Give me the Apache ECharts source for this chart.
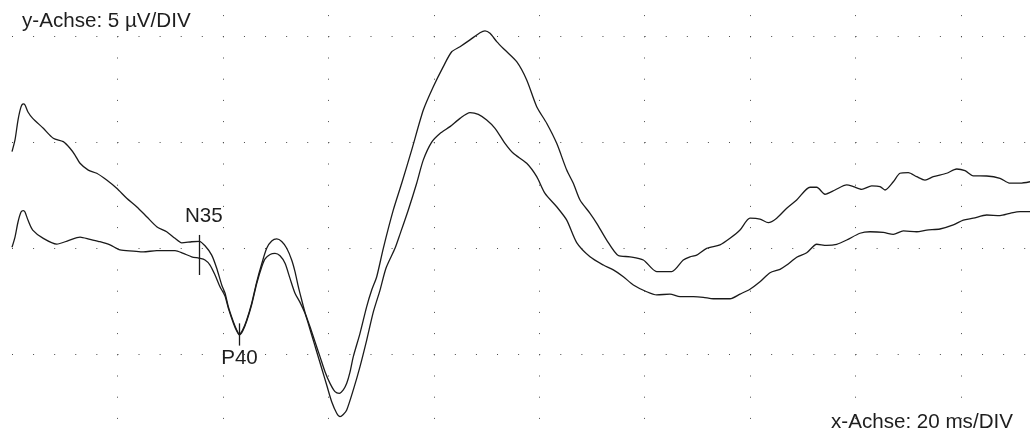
<!DOCTYPE html>
<html>
<head>
<meta charset="utf-8">
<script src="https://cdn.jsdelivr.net/npm/echarts@6.0.0/dist/echarts.min.js"></script>
<style>
html,body{margin:0;padding:0;background:#fff;}
#chart{width:1030px;height:437px;}
</style>
</head>
<body>
<div id="chart"></div>
<script>
// Trace A (upper trace), time in ms, amplitude in µV
const timeA = [0.0,0.57,1.14,1.71,2.14,2.47,3.03,3.93,5.94,7.83,9.73,11.0,11.95,12.90,14.47,16.07,17.96,19.86,21.76,23.64,25.55,27.45,29.34,30.92,32.19,34.08,35.53,36.61,37.88,38.83,39.78,40.40,41.03,41.98,42.62,43.12,43.76,44.52,45.47,46.42,47.36,48.31,49.26,50.21,51.16,52.11,53.05,53.68,54.31,54.95,55.58,56.53,57.47,58.42,59.37,60.32,61.27,62.08,62.84,63.49,64.11,64.74,66.01,67.28,68.23,69.18,70.43,72.33,73.92,75.82,78.02,79.91,81.81,83.40,84.98,86.87,88.77,89.72,90.67,91.94,93.51,95.73,97.63,99.53,101.42,103.32,105.22,106.47,107.74,109.64,110.91,112.80,115.00,117.22,119.75,122.29,125.13,127.33,128.60,129.87,131.77,134.29,136.19,138.09,139.98,141.88,143.46,145.05,146.95,148.84,151.37,152.64,154.21,156.11,158.33,159.58,161.17,163.07,164.64,165.59,167.17,168.44,170.01,171.60,173.18,174.75,177.29,179.19,180.77,182.34,184.88,187.41,189.30,191.20,193.10];
const ampA = [4.56,5.11,6.05,6.67,6.81,6.76,6.43,6.13,5.66,5.19,5.03,4.72,4.40,4.01,3.69,3.54,3.22,2.83,2.36,1.96,1.49,1.02,0.78,0.47,0.26,0.31,0.33,0.12,-0.32,-0.94,-1.73,-2.11,-2.75,-3.46,-3.85,-4.06,-3.85,-3.38,-2.59,-1.58,-0.74,0.0,0.34,0.44,0.32,0.0,-0.55,-1.10,-1.81,-2.44,-3.02,-3.70,-4.41,-5.11,-5.82,-6.37,-6.76,-6.84,-6.68,-6.37,-5.84,-5.11,-4.01,-2.75,-1.97,-1.34,0.0,1.81,3.07,4.64,6.52,7.62,8.57,9.27,9.51,9.83,10.17,10.26,10.14,9.75,9.35,8.80,7.94,6.68,5.90,4.95,3.69,3.07,2.28,1.65,1.18,0.39,-0.34,-0.40,-0.55,-1.10,-1.10,-0.55,-0.40,-0.32,0.0,0.16,0.47,0.86,1.42,1.38,1.21,1.42,1.89,2.28,2.88,2.88,2.55,2.75,2.99,2.91,2.78,2.94,2.91,2.75,3.14,3.54,3.57,3.38,3.22,3.38,3.54,3.74,3.66,3.42,3.41,3.30,3.07,3.07,3.14];

// Trace B (lower trace)
const timeB = [0.0,0.57,1.14,1.71,2.14,2.47,3.03,3.93,5.94,8.48,10.68,12.90,14.79,16.69,18.59,20.49,23.01,24.91,27.45,30.92,32.49,34.09,35.53,36.61,37.56,38.51,39.45,40.40,41.03,41.98,42.62,43.12,43.76,44.52,45.47,46.42,47.36,48.0,48.95,49.89,50.84,51.79,52.73,53.68,54.63,55.58,56.85,57.80,58.74,59.69,60.64,61.59,62.22,62.84,63.49,64.74,66.01,67.28,68.54,69.81,70.95,72.65,73.60,75.17,76.76,78.02,79.61,81.18,83.08,84.98,86.87,88.45,90.04,91.62,93.51,95.09,97.63,99.53,101.10,103.32,105.22,107.11,109.64,112.17,114.06,115.96,117.86,120.39,122.29,124.81,126.71,129.23,131.13,133.02,136.19,138.09,139.98,141.88,143.78,145.68,146.95,148.84,150.74,152.64,154.53,156.43,158.33,160.85,162.75,165.27,167.17,169.07,171.60,173.50,176.02,178.55,180.44,182.34,184.88,187.41,189.30,191.20,193.10];
const ampB = [0.05,0.53,1.24,1.71,1.78,1.71,1.33,0.86,0.47,0.20,0.36,0.53,0.42,0.31,0.16,-0.08,-0.13,-0.17,-0.11,-0.11,-0.24,-0.40,-0.47,-0.55,-0.79,-1.26,-1.81,-2.25,-2.82,-3.52,-3.90,-4.09,-3.90,-3.43,-2.65,-1.66,-0.88,-0.50,-0.29,-0.24,-0.35,-0.71,-1.42,-2.12,-2.55,-3.07,-4.09,-4.88,-5.66,-6.45,-7.24,-7.78,-7.94,-7.84,-7.63,-6.68,-5.58,-4.33,-3.00,-1.97,-0.93,0.0,0.67,1.81,3.07,4.17,5.01,5.42,5.74,6.13,6.40,6.32,6.05,5.66,4.95,4.48,4.01,3.38,2.59,1.96,1.33,0.27,-0.40,-0.79,-1.02,-1.34,-1.73,-2.05,-2.20,-2.16,-2.28,-2.28,-2.31,-2.38,-2.38,-2.16,-1.93,-1.58,-1.15,-0.99,-0.79,-0.42,-0.21,0.19,0.14,0.19,0.39,0.71,0.78,0.75,0.66,0.82,0.78,0.86,0.91,1.10,1.33,1.42,1.57,1.54,1.65,1.73,1.73];

// Peak markers: name, latency (ms), marker top / bottom (µV)
const peakNames = ['N35', 'P40'];
const peakTimes = [35.53, 43.15];
const peakTop = [0.63, -3.54];
const peakBottom = [-1.26, -4.59];

// Axis scale texts
const yScaleText = 'y-Achse: 5 µV/DIV';
const xScaleText = 'x-Achse: 20 ms/DIV';

const zip = (t, v) => t.map((x, i) => [x, v[i]]);
const FONT = '"Liberation Sans", Arial, Helvetica, sans-serif';
const ink = '#1a1a1a';
const FS = 20.6;

const chart = echarts.init(document.getElementById('chart'), null, {renderer: 'canvas'});

const markLineData = peakNames.map((n, i) => [
  {coord: [peakTimes[i], peakTop[i]]},
  {coord: [peakTimes[i], peakBottom[i]]}
]);
const markPointData = [
  {name: peakNames[0], coord: [peakTimes[0], peakTop[0]], label: {offset: [4.5, -19]}},
  {name: peakNames[1], coord: [peakTimes[1], peakBottom[1]], label: {offset: [0, 12.6]}}
];

const option = {
  animation: false,
  backgroundColor: '#ffffff',
  title: [
    {text: yScaleText, left: 22, top: 11.2, padding: 0,
     textStyle: {fontFamily: FONT, fontSize: FS, fontWeight: 'normal', color: '#1e1e1e'}},
    {text: xScaleText, left: 831, top: 411.8, padding: 0,
     textStyle: {fontFamily: FONT, fontSize: FS, fontWeight: 'normal', color: '#1e1e1e'}}
  ],
  grid: {left: 12, top: -69.7, width: 1054.4, height: 530, containLabel: false, outerBoundsMode: 'none'},
  xAxis: {
    type: 'value', min: 0, max: 200, interval: 20,
    axisLine: {show: false}, axisTick: {show: false}, axisLabel: {show: false},
    splitLine: {show: true, showMinLine: false, showMaxLine: false,
      lineStyle: {color: '#4a4a4a', width: 1, type: [1, 20.2]}}
  },
  yAxis: {
    type: 'value', min: -10, max: 15, interval: 5,
    axisLine: {show: false}, axisTick: {show: false}, axisLabel: {show: false},
    splitLine: {show: true, showMinLine: false, showMaxLine: false,
      lineStyle: {color: '#4a4a4a', width: 1, type: [1, 20.088]}}
  },
  series: [
    {
      type: 'line', name: 'A', data: zip(timeA, ampA), showSymbol: false, symbol: 'none',
      smooth: 0.25, lineStyle: {color: ink, width: 1.3}, silent: true,
      markLine: {
        silent: true, symbol: ['none', 'none'], label: {show: false},
        lineStyle: {color: ink, width: 1.3, type: 'solid'},
        data: markLineData
      },
      markPoint: {
        silent: true, symbol: 'circle', symbolSize: 0,
        itemStyle: {color: 'transparent'},
        label: {show: true, position: 'inside', formatter: '{b}',
          fontFamily: FONT, fontSize: FS, color: '#1e1e1e'},
        data: markPointData
      }
    },
    {
      type: 'line', name: 'B', data: zip(timeB, ampB), showSymbol: false, symbol: 'none',
      smooth: 0.25, lineStyle: {color: ink, width: 1.3}, silent: true
    }
  ]
};
chart.setOption(option);
</script>
</body>
</html>
